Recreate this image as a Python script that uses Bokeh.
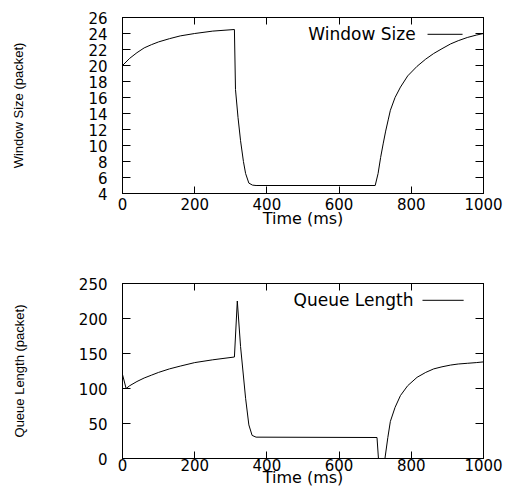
from bokeh.plotting import figure
from bokeh.layouts import column
from bokeh.models import LinearAxis, Label, Arrow, Range1d, FixedTicker
from bokeh.embed import file_html
from bokeh.resources import INLINE

# ---- data ----
win_t = [0, 20, 40, 60, 80, 100, 130, 160, 200, 250, 310, 313, 320, 327, 335, 341,
         350, 360, 370, 700, 708, 715, 722, 729, 736, 742, 755, 770, 790, 816, 840,
         862, 885, 909, 930, 955, 980, 1000]
win_v = [20.0, 20.9, 21.6, 22.2, 22.6, 22.95, 23.35, 23.7, 24.0, 24.3, 24.5, 17.0,
         13.5, 10.6, 8.0, 6.5, 5.3, 5.05, 5.0, 5.0, 6.5, 8.5, 10.2, 11.8, 13.2, 14.4,
         16.0, 17.3, 18.7, 19.9, 20.8, 21.5, 22.1, 22.7, 23.1, 23.5, 23.8, 24.0]

q_t = [0, 10, 20, 40, 60, 80, 100, 130, 160, 200, 250, 310, 318, 327, 341, 350, 359,
       370, 705, 709, 727, 735, 742, 755, 770, 790, 816, 840, 862, 885, 909, 930, 955,
       980, 1000]
q_v = [120, 100, 104, 110, 115, 119, 123, 128, 132, 137, 141, 145, 225, 160, 86, 48,
       33, 30.5, 30, 0, 0, 30, 53, 73, 90, 104, 116, 123, 128, 131, 133.5, 135, 136,
       137, 138]

x_ticks = [0, 200, 400, 600, 800, 1000]
win_ticks = [4, 6, 8, 10, 12, 14, 16, 18, 20, 22, 24, 26]
q_ticks = [0, 50, 100, 150, 200, 250]

FONT = "DejaVu Sans"
NARROW = "Liberation Sans"
X_LABEL = "Time (ms)"


def style_axis(ax, ticks, tick_in, label_size="15px"):
    ax.ticker = FixedTicker(ticks=ticks, minor_ticks=[])
    ax.major_tick_in = tick_in
    ax.major_tick_out = 0
    ax.minor_tick_in = 0
    ax.minor_tick_out = 0
    ax.major_label_text_font = FONT
    ax.major_label_text_font_size = label_size
    ax.major_label_text_color = "black"
    ax.axis_label_text_font_style = "normal"
    ax.axis_label_text_color = "black"
    ax.axis_line_color = "black"


def make_fig(height, top, bottom, yr, yticks, ylabel, ylab_standoff,
             xlab_standoff, xtick_standoff):
    p = figure(width=505, height=height, output_backend="svg", toolbar_location=None,
               x_range=Range1d(0, 1000), y_range=Range1d(*yr),
               min_border_left=122, min_border_right=22,
               min_border_top=top, min_border_bottom=bottom,
               x_axis_label=X_LABEL, y_axis_label=ylabel)
    p.xgrid.visible = False
    p.ygrid.visible = False
    p.outline_line_color = "black"

    xa = p.xaxis[0]
    style_axis(xa, x_ticks, 7)
    xa.major_label_standoff = xtick_standoff
    xa.axis_label_text_font = FONT
    xa.axis_label_text_font_size = "16px"
    xa.axis_label_standoff = xlab_standoff

    ya = p.yaxis[0]
    style_axis(ya, yticks, 8)
    ya.major_label_standoff = 15
    ya.axis_label_text_font = NARROW
    ya.axis_label_text_font_size = "13px"
    ya.axis_label_standoff = ylab_standoff

    for loc, tk in (("right", yticks), ("above", x_ticks)):
        ax = LinearAxis()
        style_axis(ax, tk, 8 if loc == "right" else 7, "0px")
        ax.major_label_standoff = 0
        ax.major_label_text_alpha = 0
        p.add_layout(ax, loc)
    return p


# top panel: window size
p1 = make_fig(250, 17, 57, (4, 26), win_ticks, "Window Size (packet)", 59, -4, 4)
p1.line(win_t, win_v, line_color="black", line_width=1)
p1.add_layout(Label(x=812, y=23.9, text="Window Size", text_align="right",
                    text_baseline="middle", text_font=FONT, text_font_size="17px",
                    text_color="black"))
p1.add_layout(Arrow(x_start=845, y_start=23.9, x_end=942, y_end=23.9, end=None,
                    line_color="black", line_width=1))

# bottom panel: queue length
p2 = make_fig(239, 33, 31, (0, 250), q_ticks, "Queue Length (packet)", 49, -6, 0)
p2.line(q_t, q_v, line_color="black", line_width=1)
p2.add_layout(Label(x=806, y=226, text="Queue Length", text_align="right",
                    text_baseline="middle", text_font=FONT, text_font_size="17px",
                    text_color="black"))
p2.add_layout(Arrow(x_start=831, y_start=226, x_end=945, y_end=226, end=None,
                    line_color="black", line_width=1))

layout = column(p1, p2)
open("out.html", "w").write(file_html(layout, INLINE))
